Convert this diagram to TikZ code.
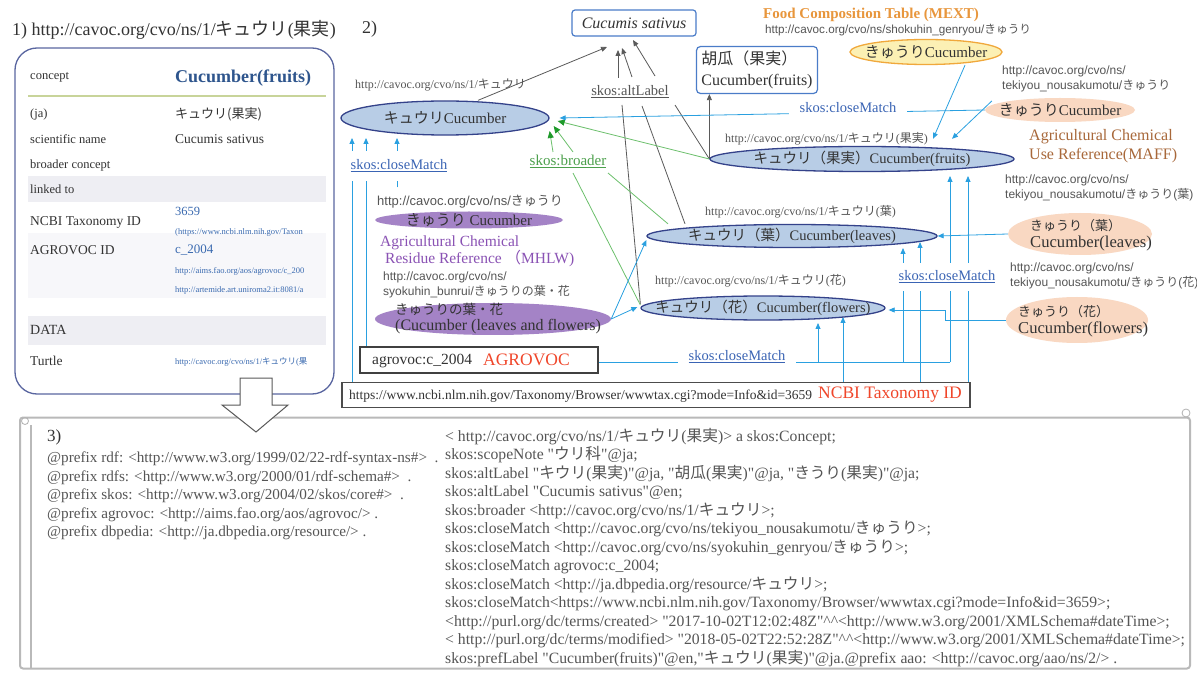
\documentclass[tikz,border=0pt]{standalone}
\usepackage{fontspec}
\setmainfont{Liberation Serif}[Ligatures=TeXOff]
\setsansfont{Liberation Sans}[Ligatures=TeXOff]
\newfontfamily\jp{Noto Sans CJK JP}
\usetikzlibrary{shapes.geometric,arrows.meta}
\pgfdeclarelayer{bg}
\pgfsetlayers{bg,main}
\newcommand{\J}[1]{{\jp #1}}
\newcommand{\fsz}[1]{\fontsize{#1}{#1}\selectfont}
\definecolor{ellB}{HTML}{B8CDE6}
\definecolor{ellD}{HTML}{34428A}
\definecolor{lblue}{HTML}{2AA0E0}
\definecolor{tblue}{HTML}{3A64B4}
\definecolor{lgreen}{HTML}{6CC06C}
\definecolor{tgreen}{HTML}{4CA04C}
\definecolor{dgreen}{HTML}{1E9A2A}
\definecolor{lgray}{HTML}{5A5A5A}
\definecolor{purp}{HTML}{A483C6}
\definecolor{tpurp}{HTML}{8A52B4}
\definecolor{peach}{HTML}{F9D8C2}
\definecolor{yel}{HTML}{FCF0B4}
\definecolor{yelB}{HTML}{F0A83C}
\definecolor{orng}{HTML}{E8963C}
\definecolor{brwn}{HTML}{A8683A}
\definecolor{rred}{HTML}{F0462A}
\definecolor{boxB}{HTML}{4A7CC8}
\definecolor{cardB}{HTML}{5A66A0}
\definecolor{band}{HTML}{EEEEF3}
\definecolor{txt}{HTML}{333333}
\definecolor{txtg}{HTML}{555555}
\definecolor{rule}{HTML}{C8D49A}
\definecolor{linkB}{HTML}{3A6AB0}
\begin{document}
\begin{tikzpicture}[x=1pt,y=-1pt,
  every node/.style={inner sep=0pt},
  ell/.style={ellipse, draw=ellD, fill=ellB, line width=1.3pt},
  etxt/.style={font=\fsz{14.5}, text=txt},
  url/.style={font=\fsz{12}, text=txtg, anchor=west},
  surl/.style={font=\sffamily\fontsize{12}{14.5}\selectfont, text=txtg, anchor=north west, align=left},
  cmlab/.style={text=tblue, font=\fsz{14.5}, fill=white},
  bl/.style={lblue, line width=0.8pt},
  bla/.style={bl, -{Triangle[width=5pt,length=6pt]}},
  gr/.style={lgray, line width=0.8pt},
  gra/.style={gr, -{Triangle[width=5pt,length=6pt]}},
  gn/.style={lgreen, line width=0.8pt},
  gna/.style={gn, -{Triangle[width=6pt,length=7pt,color=dgreen]}},
  row/.style={anchor=west, text=txt, font=\fsz{12.5}},
  tiny/.style={anchor=west, text=linkB, font=\fsz{8.5}}
]
\useasboundingbox (0,0) rectangle (1197,676);
\begin{pgfonlayer}{bg}
\fill[white] (0,0) rectangle (1197,676);
\end{pgfonlayer}

% ---------------- Panel 1 ----------------
\node[anchor=west, font=\fsz{18}, text=txt] (t1) at (12,30) {1) http://cavoc.org/cvo/ns/1/\J{キュウリ}(\J{果実})};
\node[draw=cardB, line width=1.3pt, rounded corners=22pt, minimum width=319pt, minimum height=346pt] (card) at (174.5,221) {};
\fill[band] (28,176) rectangle (326,202);
\fill[band!45] (28,233) rectangle (326,298);
\fill[band] (28,316) rectangle (326,345);
\draw[rule, line width=2pt] (28,96) -- (326,96);
\node[row] (r1) at (30,77) {concept};
\node[anchor=west, font=\bfseries\fsz{18}, text=linkB!80!black] (r1v) at (175,78) {Cucumber(fruits)};
\node[row] (r2) at (30,114) {(ja)};
\node[row, font=\fsz{13}] (r2v) at (175,114) {\J{キュウリ(果実)}};
\node[row] (r3) at (30,139) {scientific name};
\node[row, font=\fsz{13.5}] (r3v) at (175,139) {Cucumis sativus};
\node[row] (r4) at (30,165) {broader concept};
\node[row] (r5) at (30,189) {linked to};
\node[row, font=\fsz{13.5}] (r6) at (30,222) {NCBI Taxonomy ID};
\node[anchor=west, text=linkB, font=\fsz{12.5}] (r6v) at (175,211) {3659};
\node[tiny] (r6u) at (175,232) {(https://www.ncbi.nlm.nih.gov/Taxon};
\node[row, font=\fsz{13.5}] (r7) at (30,250) {AGROVOC ID};
\node[anchor=west, text=linkB, font=\fsz{13}] (r7v) at (175,250) {c\_2004};
\node[tiny] (r7u) at (175,271) {http://aims.fao.org/aos/agrovoc/c\_200};
\node[tiny] (r7w) at (175,290) {http://artemide.art.uniroma2.it:8081/a};
\node[row, font=\fsz{14}] (r8) at (30,330) {DATA};
\node[row, font=\fsz{13.5}] (r9) at (30,361) {Turtle};
\node[tiny] (r9v) at (175,362) {http://cavoc.org/cvo/ns/1/\J{キュウリ}(\J{果}};

% ---------------- Panel 3 ----------------
\node[draw=gray!55, line width=2pt, rounded corners=3pt, minimum width=1170pt, minimum height=251pt] (p3) at (605,543) {};
\draw[gray!55, line width=1.2pt] (31,425) -- (31,668);
\draw[gray!60, line width=0.8pt] (25,421) circle (3.5);
\draw[gray!60, line width=0.8pt] (1186,413) circle (4);
\draw[gray!70!black, fill=white, line width=1pt] (240,378) -- (272,378) -- (272,405) -- (288,405) -- (256,432) -- (222,405) -- (240,405) -- cycle;
\node[anchor=west, font=\fsz{17}, text=txt] (t3) at (47,437) {3)};
\node[anchor=north west, align=left, text=txtg, font=\fontsize{15.2}{18.5}\selectfont] (pref) at (47,452) {%
@prefix rdf: <http://www.w3.org/1999/02/22-rdf-syntax-ns\#>\ \ .\\
@prefix rdfs: <http://www.w3.org/2000/01/rdf-schema\#>\ \ .\\
@prefix skos: <http://www.w3.org/2004/02/skos/core\#>\ \ .\\
@prefix agrovoc: <http://aims.fao.org/aos/agrovoc/> .\\
@prefix dbpedia: <http://ja.dbpedia.org/resource/> .};
\node[anchor=north west, align=left, text=txtg, font=\fontsize{15.7}{18.5}\selectfont] (ttl) at (445,428) {%
< http://cavoc.org/cvo/ns/1/\J{キュウリ}(\J{果実})> a skos:Concept;\\
skos:scopeNote "\J{ウリ科}"@ja;\\
skos:altLabel "\J{キウリ}(\J{果実})"@ja, "\J{胡瓜}(\J{果実})"@ja, "\J{きうり}(\J{果実})"@ja;\\
skos:altLabel "Cucumis sativus"@en;\\
skos:broader <http://cavoc.org/cvo/ns/1/\J{キュウリ}>;\\
skos:closeMatch <http://cavoc.org/cvo/ns/tekiyou\_nousakumotu/\J{きゅうり}>;\\
skos:closeMatch <http://cavoc.org/cvo/ns/syokuhin\_genryou/\J{きゅうり}>;\\
skos:closeMatch agrovoc:c\_2004;\\
skos:closeMatch <http://ja.dbpedia.org/resource/\J{キュウリ}>;\\
skos:closeMatch<https://www.ncbi.nlm.nih.gov/Taxonomy/Browser/wwwtax.cgi?mode=Info\&id=3659>;\\
<http://purl.org/dc/terms/created> "2017-10-02T12:02:48Z"\textasciicircum\textasciicircum<http://www.w3.org/2001/XMLSchema\#dateTime>;\\
< http://purl.org/dc/terms/modified> "2018-05-02T22:52:28Z"\textasciicircum\textasciicircum<http://www.w3.org/2001/XMLSchema\#dateTime>;\\
skos:prefLabel "Cucumber(fruits)"@en,"\J{キュウリ}(\J{果実})"@ja.@prefix aao: <http://cavoc.org/aao/ns/2/> .};

% ---------------- Panel 2 ----------------
\node[anchor=west, font=\fsz{18}, text=txt] (t2) at (362,29) {2)};
\node[draw=boxB, line width=1.2pt, rounded corners=3pt, minimum width=124pt, minimum height=26pt, font=\itshape\fsz{16}, text=txt] (cs) at (634,23) {Cucumis sativus};
\node[url] (u1) at (355,85) {http://cavoc.org/cvo/ns/1/\J{キュウリ}};
\node[ell, minimum width=208pt, minimum height=34pt] (kyuri) at (445,118) {};
\node[etxt, font=\fsz{15}] (kyuriT) at (kyuri) {\J{キュウリ}Cucumber};
\node[draw=boxB, line width=1.2pt, rounded corners=4pt, minimum width=121pt, minimum height=47pt, align=left, font=\fontsize{16}{21}\selectfont, text=txt] (hu) at (757,70) {\J{胡瓜（果実）}\\Cucumber(fruits)};

\node[anchor=west, font=\bfseries\fsz{15}, text=orng] (fct) at (763,15) {Food Composition Table (MEXT)};
\node[surl, anchor=west, font=\sffamily\fsz{11.7}] (u2) at (765,30) {http://cavoc.org/cvo/ns/shokuhin\_genryou/\J{きゅうり}};
\node[ellipse, draw=yelB, fill=yel, line width=1.3pt, minimum width=152pt, minimum height=25pt] (yel) at (926,52) {};
\node[etxt, font=\fsz{15}] (yelT) at (yel) {\J{きゅうり}Cucumber};
\node[surl] (u3) at (1002,66) {http://cavoc.org/cvo/ns/\\tekiyou\_nousakumotu/\J{きゅうり}};
\node[ellipse, fill=peach, minimum width=150pt, minimum height=24pt] (pk1) at (1060,110) {};
\node[etxt, font=\fsz{15}] (pk1T) at (pk1) {\J{きゅうり}Cucumber};
\node[cmlab, inner xsep=11pt, inner ysep=3pt] (cmTop) at (848,108) {skos:closeMatch};

\node[url] (u4) at (725,139) {http://cavoc.org/cvo/ns/1/\J{キュウリ}(\J{果実})};
\node[ell, minimum width=304pt, minimum height=25pt] (fruits) at (862,159) {};
\node[etxt] (fruitsT) at (fruits) {\J{キュウリ（果実）}Cucumber(fruits)};
\node[anchor=north west, align=left, text=brwn, font=\fontsize{16}{19}\selectfont] (maff) at (1029,129) {Agricultural Chemical\\Use Reference(MAFF)};
\node[surl] (u5) at (1005,175) {http://cavoc.org/cvo/ns/\\tekiyou\_nousakumotu/\J{きゅうり}(\J{葉})};

\node[url] (u6) at (705,212) {http://cavoc.org/cvo/ns/1/\J{キュウリ}(\J{葉})};
\node[ell, minimum width=290pt, minimum height=23pt] (leaves) at (792,236) {};
\node[etxt] (leavesT) at (leaves) {\J{キュウリ（葉）}Cucumber(leaves)};
\node[url] (u7) at (655,281) {http://cavoc.org/cvo/ns/1/\J{キュウリ}(\J{花})};
\node[ell, minimum width=244pt, minimum height=24pt] (flowers) at (763,308) {};
\node[etxt] (flowersT) at (flowers) {\J{キュウリ（花）}Cucumber(flowers)};

\node[ellipse, fill=peach, minimum width=144pt, minimum height=42pt] (pk2) at (1080,234) {};
\node[etxt, anchor=west, align=left, font=\fontsize{16.6}{16.5}\selectfont] (pk2T) at (1030,235) {{\jp\fsz{13}きゅうり（葉）}\\Cucumber(leaves)};
\node[surl] (u8) at (1010,263) {http://cavoc.org/cvo/ns/\\tekiyou\_nousakumotu/\J{きゅうり}(\J{花})};
\node[ellipse, fill=peach, minimum width=142pt, minimum height=46pt] (pk3) at (1077,320) {};
\node[etxt, anchor=west, align=left, font=\fontsize{16.6}{16.5}\selectfont] (pk3T) at (1018,321) {{\jp\fsz{13}きゅうり（花）}\\Cucumber(flowers)};

\node[surl, anchor=west, font=\sffamily\fsz{13}] (u9) at (377,202) {http://cavoc.org/cvo/ns/\J{きゅうり}};
\node[ellipse, fill=purp, minimum width=188pt, minimum height=17pt] (pu1) at (469,220) {};
\node[etxt, font=\fsz{15}] (pu1T) at (pu1) {\J{きゅうり} Cucumber};
\node[anchor=west, text=tpurp, font=\fsz{15.5}] (mh1) at (380,243) {Agricultural Chemical};
\node[anchor=west, text=tpurp, font=\fsz{15.5}] (mh2) at (385,259) {Residue Reference \J{（}MHLW)};
\node[surl] (u10) at (383,272) {http://cavoc.org/cvo/ns/\\syokuhin\_bunrui/\J{きゅうりの葉・花}};
\node[ellipse, fill=purp, minimum width=236pt, minimum height=32pt] (pu2) at (493,319) {};
\node[etxt, anchor=west, align=left, font=\fontsize{16}{16}\selectfont] (pu2T) at (395,319) {{\jp\fsz{13.5}きゅうりの葉・花}\\(Cucumber (leaves and flowers)};

\node[draw=black!75, line width=1.3pt, minimum width=238pt, minimum height=26pt] (agro) at (479,360) {};
\node[anchor=west, font=\fsz{15.5}, text=txt] (agroT) at (372,361) {agrovoc:c\_2004};
\node[anchor=west, font=\fsz{17.5}, text=rred] (agroR) at (483,360) {AGROVOC};
\node[draw=black!70, line width=1.3pt, minimum width=628pt, minimum height=25pt] (ncbi) at (656,395) {};
\node[anchor=west, font=\fsz{13.5}, text=txt] (ncbiT) at (349,396) {https://www.ncbi.nlm.nih.gov/Taxonomy/Browser/wwwtax.cgi?mode=Info\&id=3659};
\node[anchor=west, font=\fsz{17.5}, text=rred] (ncbiR) at (818,395) {NCBI Taxonomy ID};

% labels
\node[text=txtg, font=\fsz{14.5}] (alt) at (630,92) {\underline{skos:altLabel}};
\node[text=tgreen, font=\fsz{15}] (broader) at (568,161) {\underline{skos:broader}};
\node[cmlab, inner xsep=2pt, inner ysep=9pt] (cmLeft) at (399,166) {\underline{skos:closeMatch}};
\node[cmlab, inner xsep=2pt, inner ysep=8pt] (cmRight) at (947,277) {\underline{skos:closeMatch}};
\node[cmlab, inner xsep=11pt, inner ysep=4pt] (cmBot) at (737,357) {\underline{skos:closeMatch}};

% helper coordinates for arrow tips
\coordinate (a1) at (818,323);
\coordinate (a2) at (903,248);
\coordinate (a3) at (950,176);
\coordinate (n1) at (843,317);
\coordinate (n2) at (920,242);
\coordinate (n3) at (968,176);
\coordinate (k1) at (352,138);
\coordinate (k2) at (366,138);
\coordinate (k3) at (397,138);

\begin{pgfonlayer}{bg}
% gray altLabel / scientific name
\draw[gra] ([xshift=33pt]kyuri.north) -- ([shift={(-27pt,-24pt)}]cs.center);
\draw[gra] ([shift={(-12pt,14pt)}]alt.center) -- ([shift={(-16pt,-27pt)}]cs.center);
\draw[gra] ([shift={(2pt,15pt)}]alt.center) -- ([shift={(-12pt,-25pt)}]cs.center);
\draw[gra] ([shift={(25pt,16pt)}]alt.center) -- ([shift={(-1pt,-17pt)}]cs.center);
\draw[gr] ([shift={(45pt,-13pt)}]alt.center) -- (fruits.west);
\draw[gr] ([shift={(12pt,-14pt)}]alt.center) -- ([xshift=-107pt]leaves.north);
\draw[gr] ([shift={(-8pt,-13pt)}]alt.center) -- ([yshift=4pt]flowers.west);
\draw[gra] (fruits.west) -- (fruits.west |- hu.south);
% green broader
\draw[gna] (fruits.west) -- ([shift={(8pt,-3pt)}]kyuri.east);
\draw[gna] ([shift={(-15pt,9pt)}]broader.center) -- ([shift={(0pt,-13pt)}]kyuri.east);
\draw[gna] ([shift={(5pt,9pt)}]broader.center) -- ([shift={(4pt,-8pt)}]kyuri.east);
\draw[gn] ([shift={(40pt,-12pt)}]broader.center) -- ([xshift=-124pt]leaves.north);
\draw[gn] ([shift={(5pt,-12pt)}]broader.center) -- ([yshift=3pt]flowers.west);
% blue closeMatch
\draw[bla] (pk1.west) -- ([xshift=10pt]kyuri.east);
\draw[bla] ([shift={(7pt,9pt)}]pk1.west) -- ([shift={(90pt,7pt)}]fruits.north);
\draw[bla] ([xshift=39pt]yel.south) -- ([shift={(71pt,7pt)}]fruits.north);
\draw[bla] (pk2.west) -- (leaves.east);
\draw[bla] (pk3.west) -- ++(-60pt,0) |- ([shift={(3pt,-2pt)}]flowers.east);
\draw[bla] (pu2.east) -- ([yshift=-4pt]leaves.west);
\draw[bla] (pu2.east) -- ([shift={(-3pt,1pt)}]flowers.west);
\draw[bl] ([yshift=-2pt]agro.east) -- ([yshift=-2pt]agro.east -| a3);
\foreach \c in {a1,a2,a3} \draw[bla] ([yshift=-2pt]agro.east -| \c) -- (\c);
\foreach \c in {n1,n2,n3} \draw[bla] (ncbi.north -| \c) -- (\c);
\draw[bla] (ncbi.north -| k1) -- (k1);
\draw[bla] (agro.north -| k2) -- (k2);
\draw[bla] ([yshift=8pt]u9.north -| k3) -- (k3);
\end{pgfonlayer}
\end{tikzpicture}
\end{document}
